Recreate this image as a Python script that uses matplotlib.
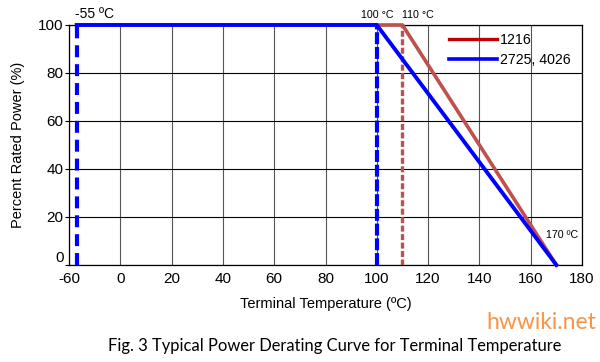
import numpy as np
import matplotlib
matplotlib.use('Agg')
import matplotlib.pyplot as plt
import matplotlib.transforms as mtransforms
from matplotlib.lines import Line2D

plt.rcParams['font.family'] = ['Liberation Sans', 'DejaVu Sans']
plt.rcParams['lines.scale_dashes'] = False
plt.rcParams['axes.unicode_minus'] = False

# derating curves (temperature °C, percent rated power)
t_1216 = [100, 110, 170]
p_1216 = [100, 100, 0]
t_2725 = [-55, 100, 170]
p_2725 = [100, 100, 0]

# guide lines at the corner temperatures
t_low = -55
t_knee_2725 = 100
t_knee_1216 = 110

x_ticks = [-60, 0, 20, 40, 60, 80, 100, 120, 140, 160, 180]
y_ticks = [0, 20, 40, 60, 80, 100]

# the original axis squeezes -60..0 into one grid cell
knots_t = [-60, -55, 0, 180]
knots_pos = [-20, -17, 0, 180]


def fwd(x):
    return np.interp(x, knots_t, knots_pos, left=-20, right=180)


def inv(x):
    return np.interp(x, knots_pos, knots_t, left=-60, right=180)


fig = plt.figure(figsize=(6, 3.62), dpi=100)
ax = fig.add_axes([0.115, 0.268, 0.855, 0.663])
ax.set_xscale('function', functions=(fwd, inv))
ax.set_xlim(-60, 180)
ax.set_ylim(0, 100)

ax.set_xticks(x_ticks)
ax.set_yticks(y_ticks)
ax.grid(True, color='black', lw=0.8)
for g in ax.get_xgridlines():
    g.set_color('#555555')
ax.tick_params(axis='x', length=0, labelsize=11, pad=5)
ax.tick_params(axis='y', length=3, labelsize=11, pad=1)
for s in ax.spines.values():
    s.set_linewidth(0.9)

# the "0" label sits a little above the axis in the original
lab0 = ax.get_yticklabels()[0]
lab0.set_transform(lab0.get_transform() +
                   mtransforms.ScaledTranslation(0, 6 / 72, fig.dpi_scale_trans))

red = '#C0504D'
blue = '#0000FF'

ax.plot([t_knee_1216, t_knee_1216], [0, 100], color=red, lw=2.4,
        dashes=(4.3, 1.8), zorder=3)
ax.plot(t_1216, p_1216, color=red, lw=2.6, zorder=4, clip_on=False)
ax.plot([t_knee_2725, t_knee_2725], [0, 100], color=blue, lw=3,
        dashes=(8.6, 2), zorder=5)
ax.plot([t_low, t_low], [0, 100], color=blue, lw=3,
        dashes=(8.6, 5), zorder=5)
ax.plot(t_2725, p_2725, color=blue, lw=2.8, zorder=6, clip_on=False)

ax.text(-56, 101.5, '-55 ºC', fontsize=10, ha='left', va='bottom')
ax.text(100, 102, '100 °C', fontsize=7.7, ha='center', va='bottom')
ax.text(110, 102, '110 °C', fontsize=7.7, ha='left', va='bottom')
ax.text(178.5, 12.5, '170 ºC', fontsize=7.7, ha='right', va='center')

handles = [Line2D([], [], color='#C00000', lw=2.4),
           Line2D([], [], color=blue, lw=2.6)]
ax.legend(handles, ['1216', '2725, 4026'], loc='upper left',
          bbox_to_anchor=(0.73, 0.99), frameon=False, fontsize=10.2,
          handlelength=3.4, handletextpad=0.2, labelspacing=0.4,
          borderaxespad=0)

ax.set_xlabel('Terminal Temperature (ºC)', fontsize=10.5, labelpad=8)
ax.set_ylabel('Percent Rated Power (%)', fontsize=10.5, labelpad=9)

fig.text(0.557, 0.045, 'Fig. 3 Typical Power Derating Curve for Terminal Temperature',
         fontsize=11.9, family=['Lato', 'DejaVu Sans'], ha='center', va='center')
fig.text(0.993, 0.108, 'hwwiki.net', fontsize=16.5, color='#F79646',
         family=['Lato', 'DejaVu Sans'], ha='right', va='center')

fig.savefig('out.png', dpi=100)
